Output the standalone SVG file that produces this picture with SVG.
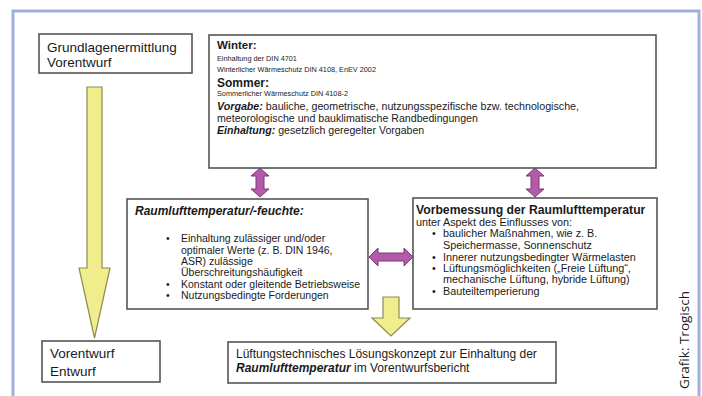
<svg xmlns="http://www.w3.org/2000/svg" width="702" height="396" viewBox="0 0 702 396">
<style>
.box{fill:#fff;stroke:#555;stroke-width:1.6}
text{font-family:"Liberation Sans",Arial,sans-serif;fill:#1a1a1a}
.t13{font-size:13.5px}
.sm{font-size:7.3px}
.md{font-size:10.6px}
.b{font-weight:bold}
.bi{font-weight:bold;font-style:italic}
.pur{fill:#b35aa9;stroke:#7d3b76;stroke-width:1}
.yel{fill:#f0ee8c;stroke:#8c8a55;stroke-width:1.2}
</style>
<rect x="0" y="0" width="702" height="396" fill="#fff"/>
<path d="M13,396 V11 H699 V396" fill="none" stroke="#9fb0de" stroke-width="3"/>
<text transform="translate(689,389) rotate(-90)" style="font-family:'Open Sans','DejaVu Sans',sans-serif;font-size:13.5px" fill="#222">Grafik: Trogisch</text>

<g id="connectors">
<path class="yel" d="M87,87 H102 V268 H110 L94.5,338 L79,268 H87 Z"/>
<path class="yel" d="M383,297 H399 V318 H410 L391,336 L372,318 H383 Z"/>
<path class="pur" d="M260,168 L269,176 H264 V189 H269 L260,197 L251,189 H256 V176 H251 Z"/>
<path class="pur" d="M535,168 L544,176 H539 V189 H544 L535,197 L526,189 H531 V176 H526 Z"/>
<path class="pur" d="M369,257 L378,248 V253 H404 V248 L413,257 L404,266 V261 H378 V266 Z"/>
</g>

<g id="grundlagen">
<rect class="box" x="39" y="34" width="153" height="39"/>
<text class="t13" x="47" y="52">Grundlagenermittlung</text>
<text class="t13" x="47" y="67">Vorentwurf</text>
</g>

<g id="vorentwurf">
<rect class="box" x="42" y="341" width="118" height="41"/>
<text class="t13" x="50" y="358">Vorentwurf</text>
<text class="t13" x="50" y="376">Entwurf</text>
</g>

<g id="anforderungen">
<rect class="box" x="209" y="35" width="447" height="133"/>
<text class="b" x="217" y="49" style="font-size:11.5px">Winter:</text>
<text class="sm" x="217" y="61">Einhaltung der DIN 4701</text>
<text class="sm" x="217" y="72">Winterlicher Wärmeschutz DIN 4108, EnEV 2002</text>
<text class="b" x="217" y="87" style="font-size:12px">Sommer:</text>
<text class="sm" x="217" y="96">Sommerlicher Wärmeschutz DIN 4108-2</text>
<text class="md" x="217" y="110" textLength="362" lengthAdjust="spacingAndGlyphs"><tspan class="bi">Vorgabe:</tspan> bauliche, geometrische, nutzungsspezifische bzw. technologische,</text>
<text class="md" x="217" y="122">meteorologische und bauklimatische Randbedingungen</text>
<text class="md" x="217" y="134"><tspan class="bi">Einhaltung:</tspan> gesetzlich geregelter Vorgaben</text>
</g>

<g id="raumluft">
<rect class="box" x="127" y="199" width="241" height="110"/>
<text class="bi" x="135" y="215" style="font-size:12px">Raumlufttemperatur/-feuchte:</text>
<g style="font-size:10.5px">
<text x="166" y="242">•</text>
<text x="181" y="242">Einhaltung zulässiger und/oder</text>
<text x="181" y="254">optimaler Werte (z. B. DIN 1946,</text>
<text x="181" y="265">ASR) zulässige</text>
<text x="181" y="276">Überschreitungshäufigkeit</text>
<text x="166" y="288">•</text>
<text x="181" y="288">Konstant oder gleitende Betriebsweise</text>
<text x="166" y="299">•</text>
<text x="181" y="299">Nutzungsbedingte Forderungen</text>
</g>
</g>

<g id="vorbemessung">
<rect class="box" x="413" y="198" width="244" height="111"/>
<text class="b" x="416" y="213.5" style="font-size:12.2px">Vorbemessung der Raumlufttemperatur</text>
<g style="font-size:10.8px">
<text x="416" y="226">unter Aspekt des Einflusses von:</text>
<text x="432" y="237">•</text>
<text x="443" y="237">baulicher Maßnahmen, wie z. B.</text>
<text x="443" y="249">Speichermasse, Sonnenschutz</text>
<text x="432" y="261">•</text>
<text x="443" y="261">Innerer nutzungsbedingter Wärmelasten</text>
<text x="432" y="272">•</text>
<text x="443" y="272">Lüftungsmöglichkeiten („Freie Lüftung“,</text>
<text x="443" y="283">mechanische Lüftung, hybride Lüftung)</text>
<text x="432" y="295">•</text>
<text x="443" y="295">Bauteiltemperierung</text>
</g>
</g>

<g id="konzept">
<rect class="box" x="228" y="342" width="328" height="41"/>
<text x="236" y="358" style="font-size:12px">Lüftungstechnisches Lösungskonzept zur Einhaltung der</text>
<text x="236" y="372" style="font-size:12px"><tspan class="bi">Raumlufttemperatur</tspan> im Vorentwurfsbericht</text>
</g>
</svg>
